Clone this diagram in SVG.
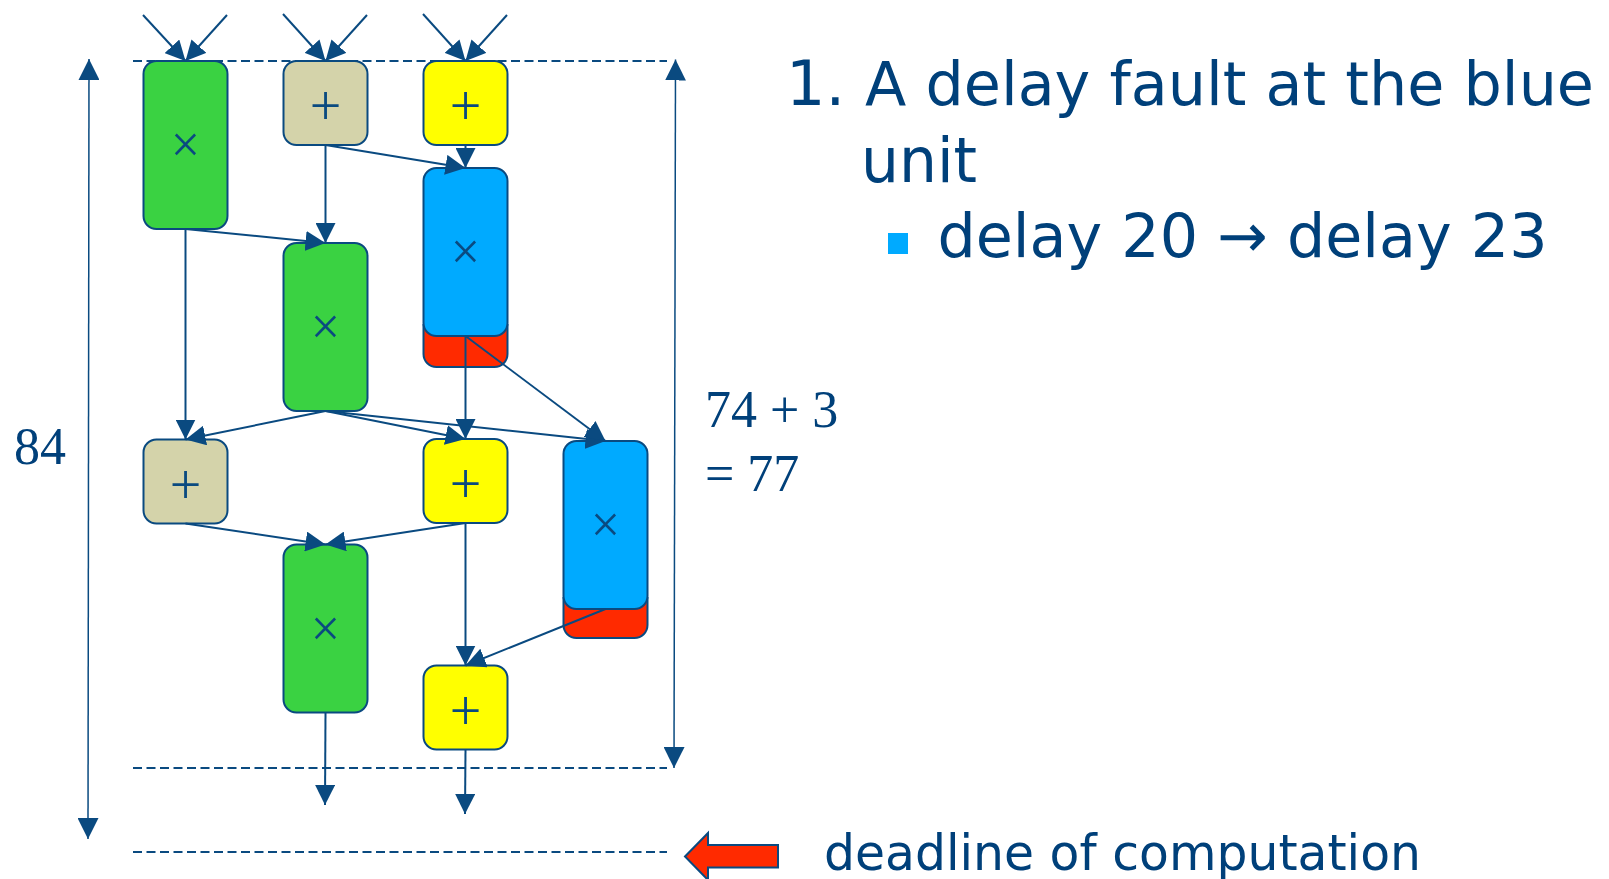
<svg xmlns="http://www.w3.org/2000/svg" width="1609" height="879" viewBox="0 0 1609 879">
<defs>
<marker id="ah" markerUnits="userSpaceOnUse" markerWidth="20" markerHeight="20" refX="20" refY="10" orient="auto" viewBox="0 0 20 20"><path d="M0,0 L20,10 L0,20 z" fill="#0A4A80"/></marker>
<marker id="ad" markerUnits="userSpaceOnUse" markerWidth="21" markerHeight="21" refX="21" refY="10.5" orient="auto-start-reverse" viewBox="0 0 21 21"><path d="M0,0 L21,10.5 L0,21 z" fill="#0A4A80"/></marker>
<style>
.n{stroke:#0A4A80;stroke-width:2}
.g{fill:#3AD242}.t{fill:#D4D3AA}.y{fill:#FFFF00}.b{fill:#00AAFF}.r{fill:#FF2A00}
.op{font-family:"Liberation Serif",serif;fill:#0A4A80;text-anchor:middle}
.pl{font-size:56px}.mu{font-size:52px}
.c{stroke:#0A4A80;stroke-width:2;fill:none;marker-end:url(#ah)}
.dash{stroke:#0A4A80;stroke-width:2;stroke-dasharray:9 4.5;fill:none}
.dim{stroke:#0A4A80;stroke-width:1.5;fill:none;marker-start:url(#ad);marker-end:url(#ad)}
.sans{font-family:"DejaVu Sans","Liberation Sans",sans-serif;fill:#00407A}
.serif{font-family:"Liberation Serif",serif;fill:#00407A}
</style>
</defs>
<rect width="1609" height="879" fill="#FFFFFF"/>

<g id="guides">
<line class="dash" x1="133" y1="61" x2="667" y2="61"/>
<line class="dash" x1="133" y1="768" x2="667" y2="768"/>
<line class="dash" x1="133" y1="852" x2="667" y2="852"/>
<line class="dim" x1="89" y1="59" x2="88" y2="839"/>
<line class="dim" x1="675.5" y1="59.5" x2="674" y2="768"/>
</g>

<g id="G1"><rect class="n g" x="143.5" y="61" width="84" height="168" rx="13"/><text class="op mu" x="185.5" y="162">×</text></g>
<g id="T1"><rect class="n t" x="283.5" y="61" width="84" height="84" rx="13"/><text class="op pl" x="325.5" y="125">+</text></g>
<g id="Y1"><rect class="n y" x="423.5" y="61" width="84" height="84" rx="13"/><text class="op pl" x="465.5" y="125">+</text></g>
<g id="B1"><path class="n r" d="M423.5,324 V354 A13,13 0 0 0 436.5,367 H494.5 A13,13 0 0 0 507.5,354 V324"/><rect class="n b" x="423.5" y="168" width="84" height="168" rx="13"/><text class="op mu" x="465.5" y="269">×</text></g>
<g id="G2"><rect class="n g" x="283.5" y="243" width="84" height="168" rx="13"/><text class="op mu" x="325.5" y="344">×</text></g>
<g id="T2"><rect class="n t" x="143.5" y="439.5" width="84" height="84" rx="13"/><text class="op pl" x="185.5" y="503.5">+</text></g>
<g id="Y2"><rect class="n y" x="423.5" y="439" width="84" height="84" rx="13"/><text class="op pl" x="465.5" y="503">+</text></g>
<g id="B2"><path class="n r" d="M563.5,597 V625 A13,13 0 0 0 576.5,638 H634.5 A13,13 0 0 0 647.5,625 V597"/><rect class="n b" x="563.5" y="441" width="84" height="168" rx="13"/><text class="op mu" x="605.5" y="542">×</text></g>
<g id="G3"><rect class="n g" x="283.5" y="544.5" width="84" height="168" rx="13"/><text class="op mu" x="325.5" y="645.5">×</text></g>
<g id="Y3"><rect class="n y" x="423.5" y="665.5" width="84" height="84" rx="13"/><text class="op pl" x="465.5" y="729.5">+</text></g>

<g id="connectors">
<line class="c" x1="143" y1="15" x2="185.5" y2="61"/>
<line class="c" x1="227" y1="15" x2="185.5" y2="61"/>
<line class="c" x1="283" y1="14" x2="325.5" y2="61"/>
<line class="c" x1="367" y1="15" x2="325.5" y2="61"/>
<line class="c" x1="423" y1="14" x2="465.5" y2="61"/>
<line class="c" x1="507" y1="15" x2="465.5" y2="61"/>
<line class="c" x1="325.5" y1="145" x2="465.5" y2="168"/>
<line class="c" x1="465.5" y1="145" x2="465.5" y2="168"/>
<line class="c" x1="185.5" y1="229" x2="325.5" y2="243"/>
<line class="c" x1="325.5" y1="145" x2="325.5" y2="243"/>
<line class="c" x1="185.5" y1="229" x2="185.5" y2="439.5"/>
<line class="c" x1="325.5" y1="411" x2="185.5" y2="439.5"/>
<line class="c" x1="325.5" y1="411" x2="465.5" y2="439"/>
<line class="c" x1="325.5" y1="411" x2="605.5" y2="441"/>
<line class="c" x1="465.5" y1="336" x2="465.5" y2="439"/>
<line class="c" x1="465.5" y1="336" x2="605.5" y2="441"/>
<line class="c" x1="185.5" y1="523.5" x2="325.5" y2="544.5"/>
<line class="c" x1="465.5" y1="523" x2="325.5" y2="544.5"/>
<line class="c" x1="465.5" y1="523" x2="465.5" y2="665.5"/>
<line class="c" x1="605.5" y1="609" x2="465.5" y2="665.5"/>
<line class="c" x1="325.5" y1="712.5" x2="325" y2="805"/>
<line class="c" x1="465.5" y1="749.5" x2="465" y2="814"/>
</g>

<g id="labels">
<text class="serif" x="14" y="463.5" font-size="52">84</text>
<text class="serif" x="705" y="427" font-size="52">74 + 3</text>
<text class="serif" x="705" y="491" font-size="52">= 77</text>
<text class="sans" x="786" y="104.5" font-size="62">1.</text>
<text class="sans" x="865" y="104.5" font-size="61" textLength="729" lengthAdjust="spacingAndGlyphs">A delay fault at the blue</text>
<text class="sans" x="861" y="181.5" font-size="62" textLength="116" lengthAdjust="spacingAndGlyphs">unit</text>
<rect x="888" y="233" width="20" height="21" fill="#00AAFF"/>
<text class="sans" x="937.5" y="256.5" font-size="61" textLength="610" lengthAdjust="spacingAndGlyphs">delay 20 → delay 23</text>
<text class="sans" x="824" y="870" font-size="49" textLength="597" lengthAdjust="spacingAndGlyphs">deadline of computation</text>
</g>

<g id="deadline-arrow">
<polygon points="685,856.5 708,833 708,845 778,845 778,867.5 708,867.5 708,880" fill="#FF2A00" stroke="#0A4A80" stroke-width="2"/>
</g>
</svg>
